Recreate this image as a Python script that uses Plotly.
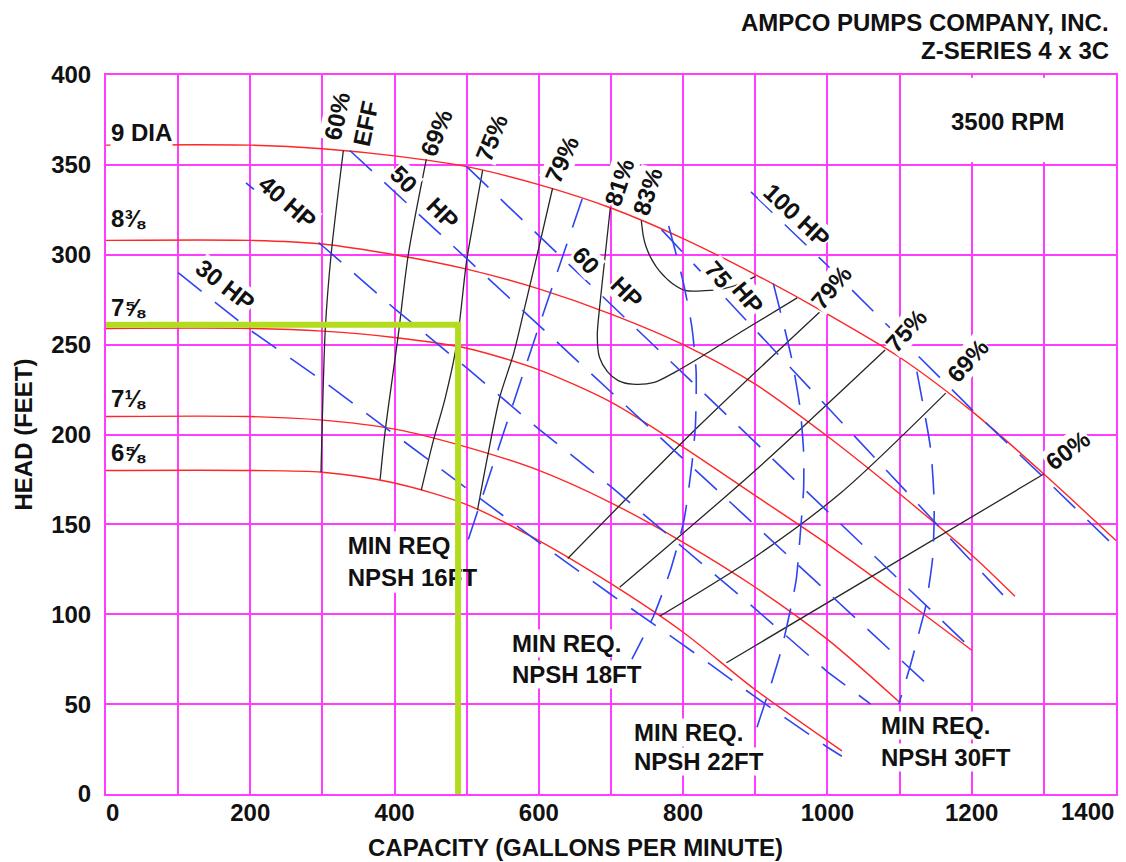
import plotly.graph_objects as go

FONT = "Liberation Sans, Arial, Helvetica, sans-serif"
MAGENTA = "#ff3cff"
RED = "#ff2626"
BLUE = "#2f45f0"
BLACK = "#262626"
GREEN = "#b4dc1e"
TEXT = "#111111"
DASH = "30px,17px"

# ---- impeller head-capacity curves (gpm, ft) ----
dia_9_q = [0, 200, 300, 400, 500, 600, 700, 800, 900, 1000, 1100, 1200, 1300, 1400]
dia_9_h = [361, 361, 359, 355, 349, 339, 326, 309, 289, 267, 243, 213, 178, 141]

dia_838_q = [0, 200, 300, 400, 500, 600, 700, 800, 900, 1000, 1100, 1200, 1260]
dia_838_h = [308, 308, 306, 300, 292, 281, 267, 250, 228, 199, 167, 133, 110]

dia_758_q = [0, 200, 300, 400, 500, 600, 700, 800, 900, 1000, 1100, 1200]
dia_758_h = [259, 259, 257.5, 254, 248, 236, 218, 193, 166, 139, 110, 80]

dia_718_q = [0, 200, 300, 400, 500, 600, 700, 800, 900, 1000, 1100]
dia_718_h = [210, 210, 208, 203, 193, 180, 162, 140, 115, 86, 51]

dia_658_q = [0, 200, 300, 400, 500, 600, 700, 800, 900, 1020]
dia_658_h = [180, 180, 179, 173, 161, 141, 117, 90, 58, 24]

impellers = [
    (dia_9_q, dia_9_h), (dia_838_q, dia_838_h), (dia_758_q, dia_758_h),
    (dia_718_q, dia_718_h), (dia_658_q, dia_658_h),
]

# ---- efficiency contours ----
eff60_l_q = [329, 312, 304, 300, 298]
eff60_l_h = [358, 300, 259, 211, 179]
eff69_l_q = [444, 419, 405, 387, 380]
eff69_l_h = [353, 300, 255, 202, 175]
eff75_l_q = [522, 510, 500, 486, 470, 454, 437]
eff75_l_h = [347, 320, 297, 250, 220, 197, 169]
eff79_l_q = [619, 600, 580, 565, 546, 530, 515]
eff79_l_h = [337, 304, 270, 245, 221, 190, 158]
eff81_q = [699, 692, 684, 681, 684, 695, 710, 730, 760, 790, 824, 884, 958]
eff81_h = [326, 300, 270, 255, 243, 235, 230, 228, 229, 235, 243, 258, 276]
eff83_q = [742, 745, 749, 757, 767, 785, 804, 830, 855, 880, 900]
eff83_h = [319, 310, 304, 297, 291, 284, 280, 280, 281, 284, 288]
eff79_r_q = [640, 820, 989]
eff79_r_h = [131, 204, 268]
eff75_r_q = [712, 900, 1080]
eff75_r_h = [115, 180, 247]
eff69_r_q = [768, 900, 1020, 1164]
eff69_r_h = [99, 132, 168, 223]
eff60_r_q = [860, 1300]
eff60_r_h = [73, 178]

efficiency = [
    (eff60_l_q, eff60_l_h), (eff69_l_q, eff69_l_h),
    (eff75_l_q, eff75_l_h), (eff79_l_q, eff79_l_h),
    (eff81_q, eff81_h), (eff83_q, eff83_h),
    (eff79_r_q, eff79_r_h), (eff75_r_q, eff75_r_h),
    (eff69_r_q, eff69_r_h), (eff60_r_q, eff60_r_h),
]

# ---- brake horsepower lines ----
hp30_q = [100, 200, 300, 400, 500, 600, 700, 800, 900, 1000, 1020]
hp30_h = [290, 258, 230, 200, 170, 140, 111, 83, 54, 26, 21]
hp40_q = [194, 300, 400, 500, 600, 700, 800, 900, 1000, 1060]
hp40_h = [340, 305, 270, 237, 203, 171, 137, 103, 68, 50]
hp50_q = [338, 1141]
hp50_h = [358, 60]
hp60_q = [500, 1199]
hp60_h = [349, 81]
hp75_q = [770, 1252]
hp75_h = [314, 107]
hp100_q = [894, 1000, 1100, 1200, 1300, 1400]
hp100_h = [335, 294, 254, 214, 176, 137]

horsepower = [(hp30_q, hp30_h), (hp40_q, hp40_h), (hp50_q, hp50_h),
              (hp60_q, hp60_h), (hp75_q, hp75_h), (hp100_q, hp100_h)]

# ---- minimum required NPSH lines ----
npsh16_q = [660, 595, 500]
npsh16_h = [331, 254, 139]
npsh18_q = [780, 800, 812, 818, 817, 812, 801, 782, 759, 729]
npsh18_h = [316, 285, 260, 235, 205, 183, 152, 124, 99, 75]
npsh22_q = [925, 950, 962, 967, 967, 963, 957, 950, 936, 921, 899]
npsh22_h = [284, 243, 215, 190, 170, 148, 120, 105, 80, 60, 33]
npsh30_q = [1124, 1143, 1148, 1146, 1136, 1129, 1116, 1099]
npsh30_h = [235, 192, 162, 132, 104, 93, 73, 50]

npsh = [(npsh16_q, npsh16_h), (npsh18_q, npsh18_h),
        (npsh22_q, npsh22_h), (npsh30_q, npsh30_h)]

# ---- selected duty point ----
duty_q = 488
duty_h = 261

# capacity ticks; the last one is set flush with the right edge of the frame
x_ticks = [0, 200, 400, 600, 800, 1000, 1200]
x_tick_text = ["\u00a0\u00a00", "200", "400", "600", "800", "1000", "1200"]
x_last_tick = 1400
y_ticks = [0, 50, 100, 150, 200, 250, 300, 350, 400]

fig = go.Figure()

for q, h in impellers:
    fig.add_trace(go.Scatter(x=q, y=h, mode="lines", hoverinfo="skip",
                             line=dict(color=RED, width=1.4, shape="spline", smoothing=0.8)))

for q, h in efficiency:
    fig.add_trace(go.Scatter(x=q, y=h, mode="lines", hoverinfo="skip",
                             line=dict(color=BLACK, width=1.3, shape="spline",
                                       smoothing=0.8)))

for q, h in horsepower:
    fig.add_trace(go.Scatter(x=q, y=h, mode="lines", hoverinfo="skip",
                             line=dict(color=BLUE, width=1.6, dash=DASH)))

for q, h in npsh:
    fig.add_trace(go.Scatter(x=q, y=h, mode="lines", hoverinfo="skip",
                             line=dict(color=BLUE, width=1.6, dash=DASH,
                                       shape="spline", smoothing=0.6)))

# NPSH 16 ft note sits under the duty-point lines
fig.add_trace(go.Scatter(x=[335], y=[128], mode="text",
                         text=["<b>MIN REQ</b><br><b>NPSH 16FT</b>"],
                         textposition="middle right",
                         textfont=dict(family=FONT, size=24, color=TEXT),
                         hoverinfo="skip"))

fig.add_trace(go.Scatter(x=[0, duty_q, duty_q], y=[duty_h, duty_h, 0], mode="lines",
                         hoverinfo="skip", line=dict(color=GREEN, width=6)))

# white panels that interrupt the grid
fig.add_shape(type="rect", x0=1103, x1=1398, y0=351.5, y1=398.5, layer="between",
              fillcolor="white", line=dict(width=0))
fig.add_shape(type="rect", x0=326, x1=492, y0=112, y1=146, layer="between",
              fillcolor="white", line=dict(width=0))


def label(x, y, text, angle=0, size=24, xanchor="center"):
    fig.add_annotation(x=x, y=y, xref="x", yref="y", text="<b>" + text + "</b>",
                       showarrow=False, textangle=angle, xanchor=xanchor,
                       yanchor="middle", bgcolor="white", borderpad=0,
                       font=dict(family=FONT, size=size, color=TEXT))


# diameter labels
label(5, 368, "9 DIA", xanchor="left")
label(5, 320, "8\u215c", xanchor="left")
label(5, 270.5, "7\u215d", xanchor="left")
label(5, 220, "7\u215b", xanchor="left")
label(5, 190, "6\u215d", xanchor="left")

label(1249, 374, "3500 RPM")

# efficiency labels
label(320, 377, "60%", -78)
label(360, 373, "EFF", -78)
label(458, 368, "69%", -68)
label(535, 365, "75%", -68)
label(632, 353, "79%", -65)
label(712, 340, "81%", -72)
label(751, 335, "83%", -72)
label(1005, 282, "79%", -50)
label(1109, 258, "75%", -48)
label(1195, 241, "69%", -48)
label(1333, 191, "60%", -37)

# horsepower labels
label(166, 283, "30 HP", 38)
label(252, 329, "40 HP", 41)
label(413, 341.6, "50", 45)
label(467, 323, "HP", 45)
label(666, 297, "60", 48)
label(722, 279, "HP", 45)
label(849, 289, "75", 50)
label(889, 276, "HP", 50)
label(958, 322, "100 HP", 43)

# NPSH labels
label(562, 84, "MIN REQ.", xanchor="left")
label(562, 66.5, "NPSH 18FT", xanchor="left")
label(730, 34, "MIN REQ.", xanchor="left")
label(730, 18, "NPSH 22FT", xanchor="left")
label(1073, 38, "MIN REQ.", xanchor="left")
label(1073, 20.5, "NPSH 30FT", xanchor="left")

# last capacity tick label
fig.add_annotation(x=x_last_tick, y=-0.0245, xref="x", yref="paper", showarrow=False,
                   text="<b>%d</b>" % x_last_tick, xanchor="right", yanchor="middle",
                   font=dict(family=FONT, size=24, color=TEXT))

# heading
fig.add_annotation(x=0.995, y=1.0737, xref="paper", yref="paper", showarrow=False,
                   text="<b>AMPCO PUMPS COMPANY, INC.</b>", xanchor="right", yanchor="middle",
                   font=dict(family=FONT, size=24, color=TEXT))
fig.add_annotation(x=0.995, y=1.0345, xref="paper", yref="paper", showarrow=False,
                   text="<b>Z-SERIES 4 x 3C</b>", xanchor="right", yanchor="middle",
                   font=dict(family=FONT, size=24, color=TEXT))
fig.add_annotation(x=0.4653, y=-0.0751, xref="paper", yref="paper", showarrow=False,
                   text="<b>CAPACITY (GALLONS PER MINUTE)</b>", xanchor="center",
                   yanchor="middle", font=dict(family=FONT, size=24, color=TEXT))

axis_common = dict(showgrid=True, gridcolor=MAGENTA, gridwidth=2, zeroline=False,
                   showline=True, mirror=True, linecolor=MAGENTA, linewidth=2,
                   ticks="", tickfont=dict(family=FONT, size=24, color=TEXT, weight="bold"),
                   fixedrange=True, automargin=False)

fig.update_layout(
    width=1126, height=862,
    margin=dict(l=106, r=10, t=75, b=68),
    paper_bgcolor="white", plot_bgcolor="white",
    showlegend=False,
    xaxis=dict(range=[0, 1400], tickvals=x_ticks, ticktext=x_tick_text,
               minor=dict(tickvals=[100, 300, 500, 700, 900, 1100, 1300, 1400],
                          showgrid=True, gridcolor=MAGENTA, gridwidth=2, ticks=""),
               ticklabelstandoff=-4, **axis_common),
    yaxis=dict(range=[0, 400], tickvals=y_ticks, ticklabelstandoff=8,
               title=dict(text="<b>HEAD (FEET)</b>", standoff=12,
                          font=dict(family=FONT, size=24, color=TEXT)),
               **axis_common),
)

fig.write_html("out.html")
